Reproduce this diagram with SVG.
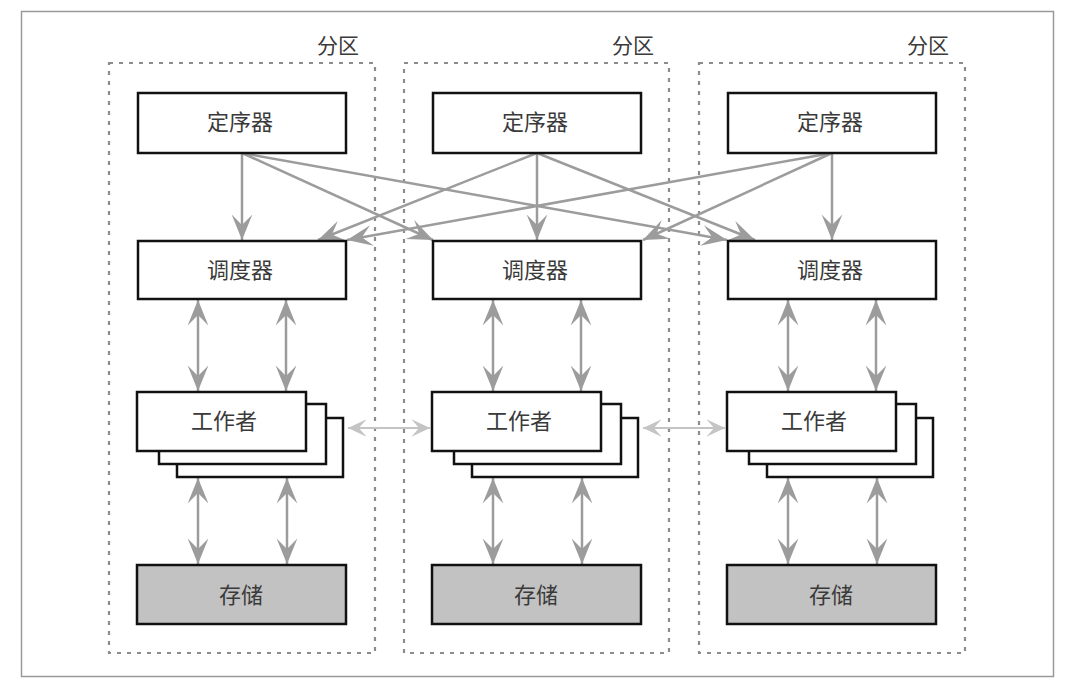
<svg xmlns="http://www.w3.org/2000/svg" width="1080" height="686" viewBox="0 0 1080 686">
<style>
.box{fill:#fff;stroke:#111;stroke-width:2.5}
.store{fill:#c2c2c2;stroke:#111;stroke-width:2.5}
.part{fill:none;stroke:#8c8c8c;stroke-width:2.2;stroke-dasharray:4 6}
.lbl{font-family:"Noto Sans CJK SC","Noto Sans",sans-serif;font-size:22px;fill:#3a3a3a;text-anchor:middle;dominant-baseline:central}
.plbl{font-family:"Noto Sans CJK SC","Noto Sans",sans-serif;font-size:21px;fill:#3a3a3a;text-anchor:end}
.arr{fill:none;stroke:#9c9c9c;stroke-width:2.5;marker-end:url(#ah)}
.dbl{fill:none;stroke:#9c9c9c;stroke-width:2.5;marker-start:url(#ah);marker-end:url(#ah)}
.lt{fill:none;stroke:#c4c4c4;stroke-width:1.8;marker-start:url(#al);marker-end:url(#al)}
</style>
<defs>
<marker id="ah" markerUnits="userSpaceOnUse" markerWidth="30" markerHeight="30" viewBox="-24 -12 26 24" refX="0" refY="0" orient="auto-start-reverse">
<path d="M0,0 L-22,-9 L-13,0 L-22,9 Z" fill="#9c9c9c"/>
</marker>
<marker id="al" markerUnits="userSpaceOnUse" markerWidth="24" markerHeight="24" viewBox="-20 -10 22 20" refX="0" refY="0" orient="auto-start-reverse">
<path d="M0,0 L-17,-8 L-10,0 L-17,8 Z" fill="#c4c4c4"/>
</marker>
</defs>
<rect x="0" y="0" width="1080" height="686" fill="#fff"/>
<rect x="21.5" y="11.5" width="1032" height="665" fill="none" stroke="#9a9a9a" stroke-width="1.5"/>

<g id="partition1">
<rect class="part" x="109" y="63" width="266" height="590"/>
<text class="plbl" x="359" y="53">分区</text>
</g>
<g id="partition2">
<rect class="part" x="404" y="63" width="265" height="590"/>
<text class="plbl" x="654" y="53">分区</text>
</g>
<g id="partition3">
<rect class="part" x="699" y="63" width="266" height="590"/>
<text class="plbl" x="949" y="53">分区</text>
</g>

<g id="connectors">
<path class="arr" d="M242,153 L242,240"/>
<path class="arr" d="M537,153 L537,240"/>
<path class="arr" d="M832,153 L832,240"/>
<path class="arr" d="M242,153 L433,240"/>
<path class="arr" d="M242,153 L727,240"/>
<path class="arr" d="M537,153 L318,240"/>
<path class="arr" d="M537,153 L755,240"/>
<path class="arr" d="M832,153 L347,240"/>
<path class="arr" d="M832,153 L643,240"/>
<path class="dbl" d="M198,300 L198,391"/>
<path class="dbl" d="M286,300 L286,391"/>
<path class="dbl" d="M493,300 L493,391"/>
<path class="dbl" d="M581,300 L581,391"/>
<path class="dbl" d="M788,300 L788,391"/>
<path class="dbl" d="M876,300 L876,391"/>
<path class="dbl" d="M198,478 L198,564"/>
<path class="dbl" d="M287,478 L287,564"/>
<path class="dbl" d="M493,478 L493,564"/>
<path class="dbl" d="M582,478 L582,564"/>
<path class="dbl" d="M788,478 L788,564"/>
<path class="dbl" d="M877,478 L877,564"/>
<path class="lt" d="M348,428 L430,428"/>
<path class="lt" d="M643,428 L725,428"/>
</g>

<g id="sequencer1"><rect class="box" x="138" y="93" width="208" height="60"/><text class="lbl" x="240" y="120">定序器</text></g>
<g id="sequencer2"><rect class="box" x="433" y="93" width="208" height="60"/><text class="lbl" x="535" y="120">定序器</text></g>
<g id="sequencer3"><rect class="box" x="728" y="93" width="208" height="60"/><text class="lbl" x="830" y="120">定序器</text></g>

<g id="scheduler1"><rect class="box" x="138" y="241" width="208" height="58"/><text class="lbl" x="240" y="268">调度器</text></g>
<g id="scheduler2"><rect class="box" x="433" y="241" width="208" height="58"/><text class="lbl" x="535" y="268">调度器</text></g>
<g id="scheduler3"><rect class="box" x="728" y="241" width="208" height="58"/><text class="lbl" x="830" y="268">调度器</text></g>

<g id="worker1">
<rect class="box" x="177" y="418" width="166" height="59"/>
<rect class="box" x="159" y="404" width="167" height="60"/>
<rect class="box" x="137" y="392" width="169" height="59"/>
<text class="lbl" x="224" y="419">工作者</text>
</g>
<g id="worker2">
<rect class="box" x="472" y="418" width="166" height="59"/>
<rect class="box" x="454" y="404" width="167" height="60"/>
<rect class="box" x="432" y="392" width="169" height="59"/>
<text class="lbl" x="519" y="419">工作者</text>
</g>
<g id="worker3">
<rect class="box" x="767" y="418" width="166" height="59"/>
<rect class="box" x="749" y="404" width="167" height="60"/>
<rect class="box" x="727" y="392" width="169" height="59"/>
<text class="lbl" x="814" y="419">工作者</text>
</g>

<g id="storage1"><rect class="store" x="137" y="565" width="209" height="59"/><text class="lbl" x="241" y="593">存储</text></g>
<g id="storage2"><rect class="store" x="432" y="565" width="209" height="59"/><text class="lbl" x="536" y="593">存储</text></g>
<g id="storage3"><rect class="store" x="727" y="565" width="209" height="59"/><text class="lbl" x="831" y="593">存储</text></g>
</svg>
